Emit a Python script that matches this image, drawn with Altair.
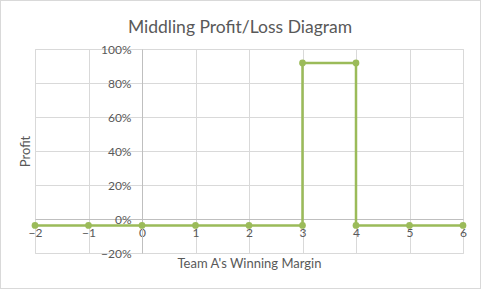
import altair as alt
import pandas as pd

margin = [-2, -1, 0, 1, 2, 3, 3, 4, 4, 5, 6]
profit = [-0.038, -0.038, -0.038, -0.038, -0.038, -0.038, 0.918, 0.918, -0.038, -0.038, -0.038]
order = list(range(len(margin)))

df = pd.DataFrame({"margin": margin, "profit": profit, "order": order})

GREEN = "#9BBB59"
TEXT = "#595959"
FONT = "Lato"

x_enc = alt.X("margin:Q",
              scale=alt.Scale(domain=[-2, 6], nice=False, zero=False),
              axis=alt.Axis(values=list(range(-2, 7)), title="Team A's Winning Margin",
                            grid=True, gridColor="#D9D9D9", ticks=False,
                            domainColor="#BFBFBF", offset=-34, labelPadding=8,
                            labelOverlap=False, labelFlush=False, labelBound=False,
                            labelColor=TEXT, labelFont=FONT, labelFontSize=12,
                            titleColor=TEXT, titleFont=FONT, titleFontSize=13,
                            titleFontWeight="normal", titleX=214, titleY=38,
                            titleBaseline="top"))
y_enc = alt.Y("profit:Q",
              scale=alt.Scale(domain=[-0.2, 1.0], nice=False, zero=False),
              axis=alt.Axis(values=[-0.2, 0, 0.2, 0.4, 0.6, 0.8, 1.0], format=".0%",
                            title="Profit", grid=True, gridColor="#D9D9D9", ticks=False,
                            domainColor="#BFBFBF", offset=-107, labelPadding=11,
                            labelOverlap=False, labelFlush=False, labelBound=False,
                            labelColor=TEXT, labelFont=FONT, labelFontSize=12,
                            titleColor=TEXT, titleFont=FONT, titleFontSize=13,
                            titleFontWeight="normal", titleX=-117, titleY=102,
                            titleAngle=-90, titleBaseline="middle", titleAlign="center"))

base = alt.Chart(df).encode(x=x_enc, y=y_enc)
line = base.mark_line(color=GREEN, strokeWidth=2.5).encode(order="order:Q")
pts = base.mark_point(color=GREEN, filled=True, opacity=1, size=45)
border = alt.Chart(df).mark_rect(filled=False, stroke="#D9D9D9", strokeWidth=1).encode(
    x=alt.value(-34.5), x2=alt.value(445.5), y=alt.value(-48.5), y2=alt.value(239.5))

chart = alt.layer(border, line, pts).properties(
    width=428, height=204,
    padding={"left": 35, "top": 49, "right": 18, "bottom": 36},
    autosize=alt.AutoSizeParams(type="none"),
    title=alt.TitleParams("Middling Profit/Loss Diagram", font=FONT, fontSize=17.5,
                          fontWeight="normal", color=TEXT, anchor="middle",
                          baseline="bottom", offset=0, dy=54, dx=-9),
).configure_view(strokeWidth=0).configure(background="white")

chart.save("out.html", embed_options={"renderer": "svg", "actions": False})
